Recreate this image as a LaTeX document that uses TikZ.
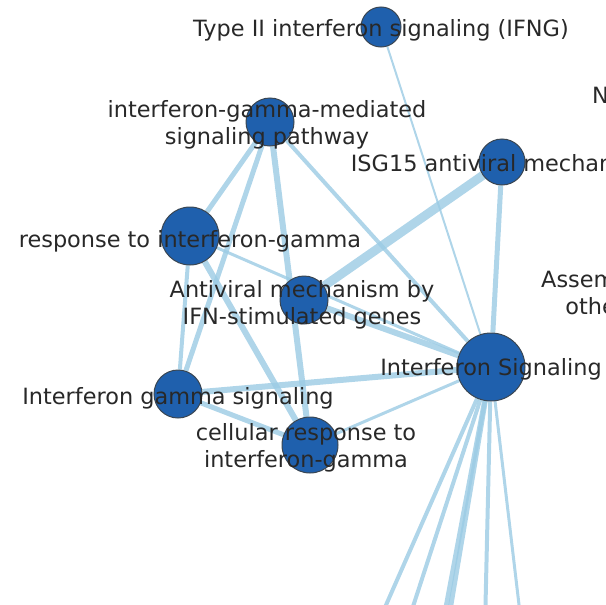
\documentclass[tikz,border=0pt]{standalone}
\usepackage{fontspec}
\setmainfont{DejaVu Sans}
\definecolor{nodeblue}{RGB}{31,96,173}
\definecolor{nodeedge}{RGB}{58,70,82}
\definecolor{linkblue}{RGB}{155,203,228}
\definecolor{labelgray}{RGB}{40,40,40}
\usetikzlibrary{positioning,backgrounds}

\tikzset{
    term/.style={circle, fill=nodeblue, draw=nodeedge, line width=1pt, inner sep=0pt},
    termlabel/.style={text=labelgray, font=\fontsize{22.4}{27}\selectfont, align=center, inner sep=0pt},
    link/.style={draw=linkblue, opacity=0.8, line width=#1},
    link/.default=3pt
}

\begin{document}
\begin{tikzpicture}[x=1pt, y=-1pt]
    \useasboundingbox (0,0) rectangle (605,605);
    \clip (0,0) rectangle (605,605);

    % terms
    \node[term, minimum size=40pt] (ifng)  at (381,27)  {};
    \node[term, minimum size=48pt] (igmsp) at (270,122) {};
    \node[term, minimum size=46pt] (isg)   at (502,162) {};
    \node[term, minimum size=58pt] (rig)   at (190,236) {};
    \node[term, minimum size=48pt] (amis)  at (304,300) {};
    \node[term, minimum size=68pt] (ifs)   at (491,367) {};
    \node[term, minimum size=48pt] (igs)   at (178,394) {};
    \node[term, minimum size=56pt] (crig)  at (310,445) {};

    % terms lying outside the frame
    \coordinate (out1) at (300,800);
    \coordinate (out2) at (350,800);
    \coordinate (out3) at (410,800);
    \coordinate (out4) at (418,800);
    \coordinate (out5) at (481,800);
    \coordinate (out6) at (542,800);

    \begin{scope}[on background layer]
        \draw[link=2pt] (ifng) -- (ifs);
        \draw[link=5pt] (igmsp) -- (rig);
        \draw[link=5pt] (igmsp) -- (igs);
        \draw[link=6pt] (igmsp) -- (crig);
        \draw[link=4pt] (igmsp) -- (ifs);
        \draw[link=9pt] (isg) -- (amis);
        \draw[link=5pt] (isg) -- (ifs);
        \draw[link=4pt] (rig) -- (igs);
        \draw[link=6pt] (rig) -- (crig);
        \draw[link=3pt] (rig) -- (ifs);
        \draw[link=6pt] (amis) -- (ifs);
        \draw[link=6pt] (igs) -- (ifs);
        \draw[link=5pt] (igs) -- (crig);
        \draw[link=3pt] (crig) -- (ifs);
        \draw[link=4pt] (ifs) -- (out1);
        \draw[link=4pt] (ifs) -- (out2);
        \draw[link=5pt] (ifs) -- (out3);
        \draw[link=5pt] (ifs) -- (out4);
        \draw[link=4pt] (ifs) -- (out5);
        \draw[link=3pt] (ifs) -- (out6);
    \end{scope}

    % labels
    \node[termlabel] at ([yshift=-3pt]ifng.center) {Type II interferon signaling (IFNG)};
    \node[termlabel] at ([xshift=-3pt, yshift=-3pt]igmsp.center) {interferon-gamma-mediated\\signaling pathway};
    \node[termlabel] at ([yshift=-1pt]isg.center) {ISG15 antiviral mechanism};
    \node[termlabel] at ([yshift=-5pt]rig.center) {response to interferon-gamma};
    \node[termlabel] at ([xshift=-2pt, yshift=-5pt]amis.center) {Antiviral mechanism by\\IFN-stimulated genes};
    \node[termlabel] at ([yshift=-2pt]ifs.center) {Interferon Signaling};
    \node[termlabel] at ([yshift=-4pt]igs.center) {Interferon gamma signaling};
    \node[termlabel] at ([xshift=-4pt, yshift=-3pt]crig.center) {cellular response to\\interferon-gamma};
    \node[termlabel, anchor=west] (neg) at (592,97) {Negative regulators};
    \node[termlabel, anchor=west] (asm) at (541,293) {Assembly of collagen fibrils and\\other multimeric structures};
\end{tikzpicture}
\end{document}
